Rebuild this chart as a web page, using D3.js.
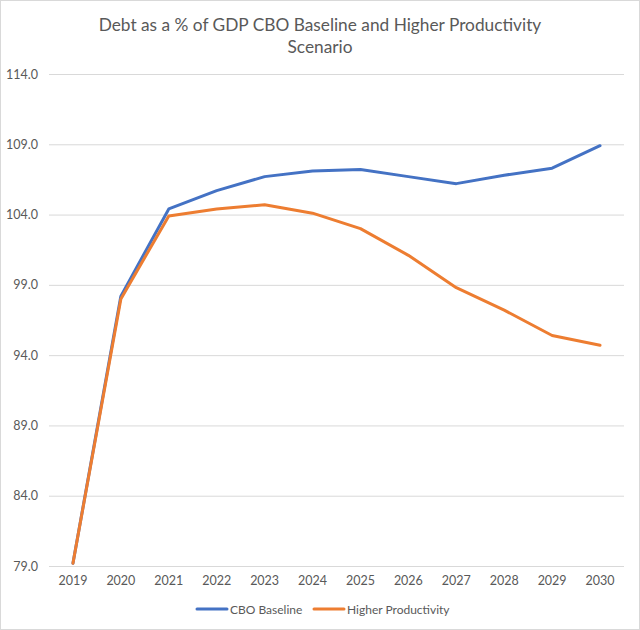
<!DOCTYPE html>
<html><head><meta charset="utf-8">
<script src="https://cdn.jsdelivr.net/npm/d3@7"></script>
<style>body{margin:0;background:#fff}svg{display:block}</style>
</head><body>
<script>
const years = ["2019","2020","2021","2022","2023","2024","2025","2026","2027","2028","2029","2030"];
const cboBaseline = [79.2, 98.2, 104.4, 105.7, 106.7, 107.1, 107.2, 106.7, 106.2, 106.8, 107.3, 108.9];
const higherProductivity = [79.2, 98.0, 103.9, 104.4, 104.7, 104.1, 103.0, 101.1, 98.8, 97.2, 95.4, 94.7];
const yTicks = [79, 84, 89, 94, 99, 104, 109, 114];
const seriesNames = ["CBO Baseline", "Higher Productivity"];
const colors = ["#4472C4", "#ED7D31"];

const W = 640, H = 630;
const font = "Lato, 'Open Sans', sans-serif";
const svg = d3.select("body").append("svg").attr("width", W).attr("height", H);
svg.append("rect").attr("x",0.5).attr("y",0.5).attr("width",W-1).attr("height",H-1)
  .attr("fill","#fff").attr("stroke","#d9d9d9");

const m = {left:49, right:16, top:74, bottom:64};
const x = d3.scaleBand().domain(years).range([m.left, W-m.right]);
const y = d3.scaleLinear().domain([79,114]).range([H-m.bottom, m.top]);

// title
const title = svg.append("text").attr("text-anchor","middle").attr("fill","#595959")
  .style("font-family", font).style("font-size","17.3px");
title.append("tspan").attr("x",W/2).attr("y",30.5).text("Debt as a % of GDP CBO Baseline and Higher Productivity");
title.append("tspan").attr("x",W/2).attr("y",52.5).text("Scenario");

// grid + y axis
const yAxis = d3.axisLeft(y).tickValues(yTicks).tickFormat(d3.format(".1f"))
  .tickSize(-(W-m.left-m.right)).tickPadding(11);
const gy = svg.append("g").attr("transform",`translate(${m.left},0)`).call(yAxis);
gy.select(".domain").remove();
gy.selectAll(".tick line").attr("stroke","#d9d9d9").attr("stroke-width",1);
gy.selectAll(".tick text").attr("fill","#595959").style("font-family",font).style("font-size","12.5px");

// x axis
const xAxis = d3.axisBottom(x).tickSize(0).tickPadding(10);
const gx = svg.append("g").attr("transform",`translate(0,${H-m.bottom})`).call(xAxis);
gx.select(".domain").remove();
gx.selectAll(".tick text").attr("fill","#595959").style("font-family",font).style("font-size","12.5px");

// lines
const line = d3.line().x((d,i)=>x(years[i])+x.bandwidth()/2).y(d=>y(d));
[cboBaseline, higherProductivity].forEach((s,k)=>{
  svg.append("path").datum(s).attr("d",line).attr("fill","none")
    .attr("stroke",colors[k]).attr("stroke-width",3).attr("stroke-linejoin","round").attr("stroke-linecap","round");
});

// legend
const legendX = [197, 314];
seriesNames.forEach((n,k)=>{
  const g = svg.append("g").attr("transform",`translate(${legendX[k]},609)`);
  g.append("line").attr("x1",0).attr("x2",30).attr("y1",0).attr("y2",0)
    .attr("stroke",colors[k]).attr("stroke-width",3).attr("stroke-linecap","round");
  g.append("text").attr("x",33).attr("y",4.5).attr("fill","#595959")
    .style("font-family",font).style("font-size","12px").text(n);
});
</script>
</body></html>
